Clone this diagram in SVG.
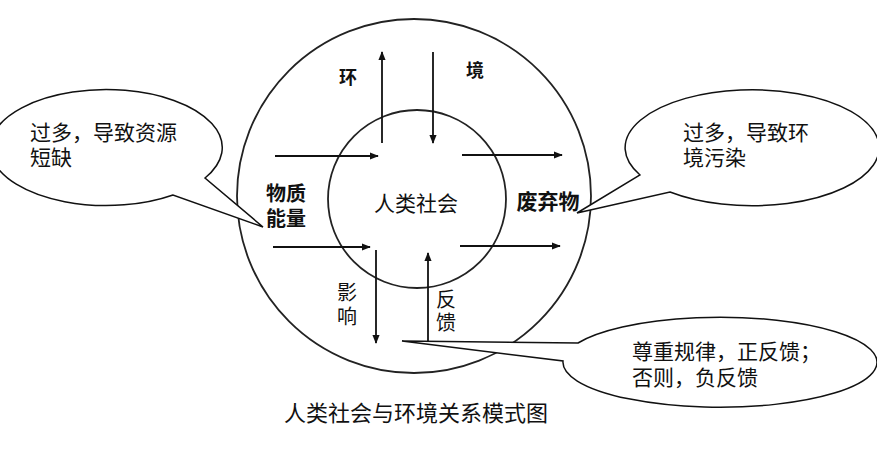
<svg xmlns="http://www.w3.org/2000/svg" width="877" height="464" viewBox="0 0 877 464">
<style>
.t{font-family:"Noto Sans CJK SC","Noto Sans",sans-serif;fill:#111}
.b{font-weight:bold}
.c{fill:none;stroke:#222;stroke-width:1.8}
.a{stroke:#111;stroke-width:1.8;fill:none;marker-end:url(#ah)}
.bub{fill:#fff;stroke:#111;stroke-width:1.5}
</style>
<defs>
<marker id="ah" viewBox="0 0 10 10" refX="9" refY="5" markerWidth="5" markerHeight="5" orient="auto" markerUnits="strokeWidth">
<path d="M0,1 L10,5 L0,9 z" fill="#111"/>
</marker>
</defs>
<rect width="877" height="464" fill="#fff"/>
<g id="environment">
<circle class="c" cx="414" cy="196" r="177"/>
<text class="t b" x="348" y="84" font-size="18" text-anchor="middle">环</text>
<text class="t b" x="475" y="77" font-size="18" text-anchor="middle">境</text>
</g>
<g id="society">
<circle class="c" cx="417" cy="199" r="89"/>
<text class="t" x="416" y="211" font-size="21" text-anchor="middle">人类社会</text>
</g>
<g id="input-label">
<text class="t b" x="286" y="201" font-size="20" text-anchor="middle">物质<tspan x="286" dy="25">能量</tspan></text>
</g>
<g id="waste-label">
<text class="t b" x="548" y="209" font-size="21" text-anchor="middle">废弃物</text>
</g>
<g id="influence-label">
<text class="t" x="347" y="300" font-size="20" text-anchor="middle">影<tspan x="347" dy="24">响</tspan></text>
</g>
<g id="feedback-label">
<text class="t" x="446" y="307" font-size="20" text-anchor="middle">反<tspan x="446" dy="23">馈</tspan></text>
</g>
<g id="connectors">
<line class="a" x1="382" y1="143" x2="382" y2="52"/>
<line class="a" x1="433" y1="52" x2="433" y2="143"/>
<line class="a" x1="275" y1="156" x2="378" y2="156"/>
<line class="a" x1="462" y1="155" x2="562" y2="155"/>
<line class="a" x1="273" y1="247" x2="370" y2="247"/>
<line class="a" x1="460" y1="246" x2="560" y2="246"/>
<line class="a" x1="376" y1="250" x2="376" y2="343"/>
<line class="a" x1="428" y1="342" x2="428" y2="253"/>
</g>
<g id="callout-left">
<path class="bub" d="M205,178 A116,58 0 1 0 173,195 L263,227 Z"/>
<text class="t" x="30" y="140" font-size="21">过多，导致资源<tspan x="30" dy="25">短缺</tspan></text>
</g>
<g id="callout-right">
<path class="bub" d="M640,175 A127,58 0 1 1 670,192 L577,213 Z"/>
<text class="t" x="683" y="140" font-size="21">过多，导致环<tspan x="683" dy="25">境污染</tspan></text>
</g>
<g id="callout-bottom">
<path class="bub" d="M578,343 A157,45 0 1 1 563,361 L402,341 Z"/>
<text class="t" x="632" y="359" font-size="21">尊重规律，正反馈；<tspan x="632" dy="26">否则，负反馈</tspan></text>
</g>
<g id="caption">
<text class="t" x="416" y="421" font-size="22" text-anchor="middle">人类社会与环境关系模式图</text>
</g>
</svg>
